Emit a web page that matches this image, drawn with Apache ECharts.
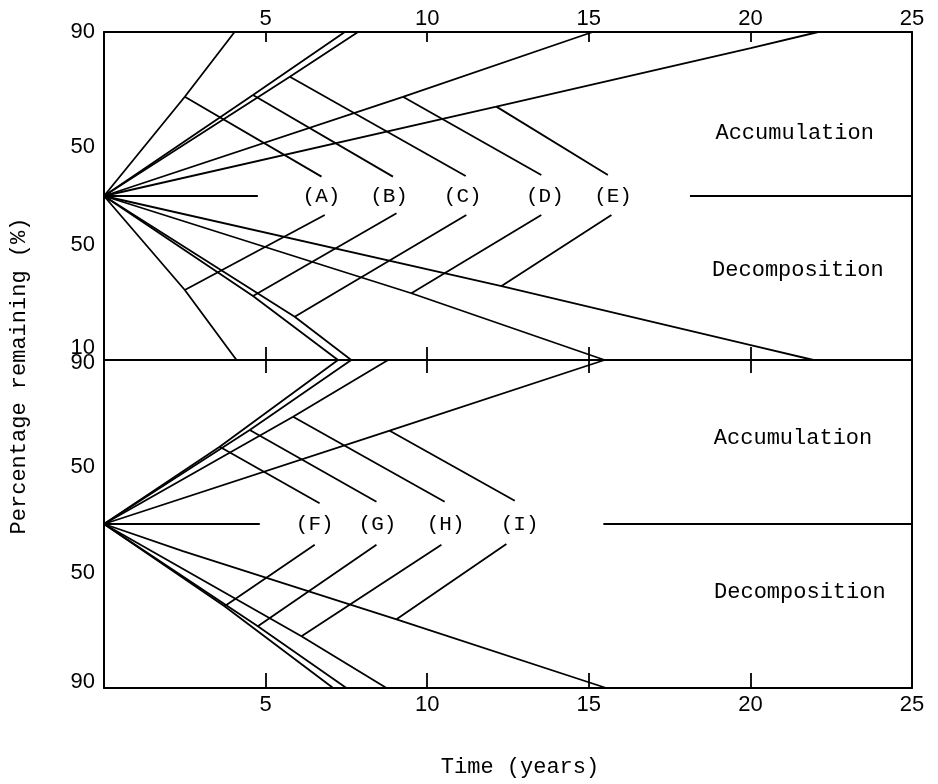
<!DOCTYPE html>
<html>
<head>
<meta charset="utf-8">
<title>Accumulation and decomposition</title>
<script src="https://cdn.jsdelivr.net/npm/echarts@6/dist/echarts.min.js"></script>
<style>
  html, body { margin: 0; padding: 0; background: #fff; }
  #chart { width: 938px; height: 784px; }
</style>
</head>
<body>
<div id="chart"></div>
<script>
// x = time in years; y in each panel runs -100 (bottom edge) .. 0 (start) .. 100 (top edge)
const topLetters = ['(A)', '(B)', '(C)', '(D)', '(E)'];
const topLetterX = [6.73, 8.82, 11.1, 13.64, 15.75];
const topAccCurves = [
  [[0, 0], [2.50, 60.5], [4.04, 100]],
  [[0, 0], [4.61, 61.6], [7.45, 100]],
  [[0, 0], [5.75, 72.7], [7.86, 100]],
  [[0, 0], [9.25, 60.5], [15.12, 100]],
  [[0, 0], [12.14, 54.5], [20.01, 90.2], [22.1, 100]]
];
const topAccPointers = [
  [[2.50, 60.5], [6.73, 11.8]],
  [[4.61, 61.6], [8.94, 11.8]],
  [[5.75, 72.7], [11.19, 12.2]],
  [[9.25, 60.5], [13.53, 12.8]],
  [[12.14, 54.5], [15.59, 12.8]]
];
const topDecCurves = [
  [[0, 0], [2.50, -57.3], [4.10, -100]],
  [[0, 0], [4.61, -61.0], [7.24, -100]],
  [[0, 0], [5.90, -73.6], [7.65, -100]],
  [[0, 0], [9.51, -59.3], [15.49, -100]],
  [[0, 0], [12.30, -54.9], [20.01, -90.9], [21.95, -100]]
];
const topDecPointers = [
  [[2.50, -57.3], [6.83, -11.6]],
  [[4.61, -61.0], [9.05, -10.5]],
  [[5.90, -73.6], [11.21, -11.6]],
  [[9.51, -59.3], [13.53, -11.6]],
  [[12.30, -54.9], [15.70, -11.6]]
];
const topBaseline = [[[0, 0], [4.76, 0]], [[18.13, 0], [25, 0]]];

const bottomLetters = ['(F)', '(G)', '(H)', '(I)'];
const bottomLetterX = [6.52, 8.46, 10.57, 12.86];
const bottomAccCurves = [
  [[0, 0], [3.58, 47.1], [7.24, 100]],
  [[0, 0], [4.51, 57.3], [7.65, 100]],
  [[0, 0], [5.85, 65.4], [8.79, 100]],
  [[0, 0], [8.84, 56.9], [15.49, 100]]
];
const bottomAccPointers = [
  [[3.58, 47.1], [6.67, 12.6]],
  [[4.51, 57.3], [8.43, 13.6]],
  [[5.85, 65.4], [10.54, 13.6]],
  [[8.84, 56.9], [12.71, 14.2]]
];
const bottomDecCurves = [
  [[0, 0], [3.73, -50.2], [7.09, -100]],
  [[0, 0], [4.76, -62.4], [7.50, -100]],
  [[0, 0], [6.11, -68.5], [8.74, -100]],
  [[0, 0], [2.44, -16.6], [9.05, -58.1], [15.54, -100]]
];
const bottomDecPointers = [
  [[3.73, -50.2], [6.52, -12.6]],
  [[4.76, -62.4], [8.43, -12.6]],
  [[6.11, -68.5], [10.44, -12.6]],
  [[9.05, -58.1], [12.45, -12.2]]
];
const bottomBaseline = [[[0, 0], [4.82, 0]], [[15.45, 0], [25, 0]]];

const regionNames = ['Accumulation', 'Decomposition'];
const topYTickValues = [100, 30, -30, -100];
const topYTickText = ['90', '50', '50', '10'];
const bottomYTickValues = [100, 35, -30, -100];
const bottomYTickText = ['90', '50', '50', '90'];

// where the region words sit (panel units)
const topRegionPos = [[21.37, 38.2], [21.47, -45.1]];
const bottomRegionPos = [[21.32, 52.3], [21.53, -41.3]];

const chart = echarts.init(document.getElementById('chart'));

const mono = 'Liberation Mono';
const sans = 'Liberation Sans';
const ink = '#000';
const numFont = { fontFamily: sans, fontSize: 22, color: ink };

function lineSeries(data, xi, yi) {
  return {
    type: 'line', xAxisIndex: xi, yAxisIndex: yi, data: data,
    symbol: 'none', silent: true, clip: false,
    lineStyle: { color: ink, width: 1.8 }
  };
}

function textSeries(items, xi, yi, size) {
  return {
    type: 'scatter', xAxisIndex: xi, yAxisIndex: yi, symbolSize: 0, silent: true,
    data: items,
    label: { show: true, position: 'inside', formatter: '{b}', fontFamily: mono, fontSize: size, color: ink, opacity: 1 }
  };
}

function yLabels(values, texts, shifts) {
  return function (v) {
    const i = values.indexOf(v);
    if (i < 0) return '';
    return '{' + shifts[i] + '|' + texts[i] + '}';
  };
}

const labelRich = {
  n: numFont,
  up12: Object.assign({}, numFont, { padding: [0, 0, 24, 0] }),
  up6: Object.assign({}, numFont, { padding: [0, 0, 12, 0] }),
  dn3: Object.assign({}, numFont, { padding: [6, 0, 0, 0] })
};

const frame = { show: true, onZero: false, lineStyle: { color: ink, width: 2 } };

function xAxis(grid, pos, labels, tickLen, margin) {
  return {
    type: 'value', gridIndex: grid, position: pos, min: 0, max: 25, interval: 5,
    axisLine: frame,
    axisTick: { show: true, inside: true, length: tickLen, lineStyle: { color: ink, width: 1.8 } },
    axisLabel: labels ? Object.assign({ show: true, margin: margin, formatter: v => (v === 0 ? '' : String(v)) }, numFont) : { show: false },
    splitLine: { show: false }
  };
}

function yAxis(grid, pos, formatter) {
  return {
    type: 'value', gridIndex: grid, position: pos, min: -100, max: 100, interval: 5,
    axisLine: frame,
    axisTick: { show: false },
    axisLabel: formatter ? { show: true, margin: 9, formatter: formatter, rich: labelRich, hideOverlap: false } : { show: false },
    splitLine: { show: false }
  };
}

const series = [];
[topAccCurves, topAccPointers, topDecCurves, topDecPointers, topBaseline].forEach(group => {
  group.forEach(d => series.push(lineSeries(d, 0, 0)));
});
[bottomAccCurves, bottomAccPointers, bottomDecCurves, bottomDecPointers, bottomBaseline].forEach(group => {
  group.forEach(d => series.push(lineSeries(d, 3, 2)));
});
series.push(textSeries(topLetters.map((t, i) => ({ name: t, value: [topLetterX[i], 0] })), 0, 0, 21));
series.push(textSeries(bottomLetters.map((t, i) => ({ name: t, value: [bottomLetterX[i], 0] })), 3, 2, 21));
series.push(textSeries(regionNames.map((t, i) => ({ name: t, value: topRegionPos[i] })), 0, 0, 22));
series.push(textSeries(regionNames.map((t, i) => ({ name: t, value: bottomRegionPos[i] })), 3, 2, 22));

const xBottom = xAxis(1, 'bottom', true, 15, 6);
xBottom.name = 'Time (years)';
xBottom.nameLocation = 'middle';
xBottom.nameGap = 68;
xBottom.nameTextStyle = { fontFamily: mono, fontSize: 22, color: ink, padding: [0, 0, 0, 24] };

const option = {
  backgroundColor: '#fff',
  animation: false,
  grid: [
    { left: 104, top: 32, width: 808, height: 328 },
    { left: 104, top: 360, width: 808, height: 328 }
  ],
  xAxis: [
    xAxis(0, 'top', true, 10, 2),
    xAxis(0, 'bottom', false, 13),
    xAxis(1, 'top', false, 13),
    xBottom
  ],
  yAxis: [
    yAxis(0, 'left', yLabels(topYTickValues, topYTickText, ['n', 'n', 'n', 'up12'])),
    yAxis(0, 'right', null),
    yAxis(1, 'left', yLabels(bottomYTickValues, bottomYTickText, ['dn3', 'n', 'n', 'up6'])),
    yAxis(1, 'right', null)
  ],
  graphic: [{
    type: 'text', x: 19, y: 376, rotation: Math.PI / 2,
    style: { text: 'Percentage remaining (%)', fontFamily: mono, fontSize: 22, fill: ink, align: 'center', verticalAlign: 'middle' }
  }],
  series: series
};

chart.setOption(option);
</script>
</body>
</html>
